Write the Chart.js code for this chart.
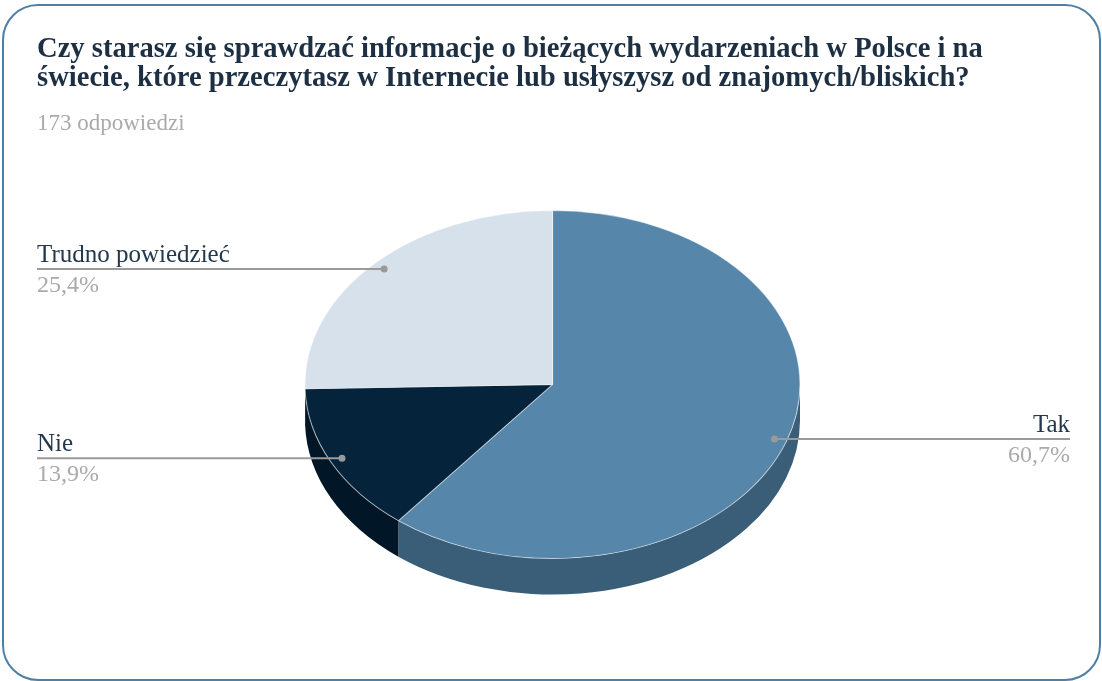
<!DOCTYPE html>
<html>
<head>
<meta charset="utf-8">
<title>Czy starasz się sprawdzać informacje</title>
<script src="https://cdn.jsdelivr.net/npm/chart.js"></script>
<style>
  html, body { margin: 0; padding: 0; background: #fff; }
  #frame {
    position: absolute; left: 2px; top: 4px;
    width: 1095px; height: 673px;
    border: 2px solid #4f7fa3; border-radius: 36px;
  }
  #wrap { position: absolute; left: 0; top: 0; width: 1102px; height: 681px; }
</style>
</head>
<body>
<div id="frame"></div>
<div id="wrap"><canvas id="pieChart"></canvas></div>

<script>
const titleLines = [
    'Czy starasz się sprawdzać informacje o bieżących wydarzeniach w Polsce i na',
    'świecie, które przeczytasz w Internecie lub usłyszysz od znajomych/bliskich?'
];
const answerCount = '173 odpowiedzi';
const categories = ['Tak', 'Nie', 'Trudno powiedzieć'];
const percents = [60.7, 13.9, 25.4];
const topColors = ['#5687ab', '#05233b', '#d6e1eb'];
const sideColors = ['#3b5e78', '#011626', '#a9b6c2'];

// where the flattened pie sits on the page
const pieCx = 552.5, pieCy = 384.5, pieRx = 247.5, pieRy = 174, pieDepth = 36;

function ellipseXY(a, r) {
    return [pieCx + Math.cos(a) * pieRx * r, pieCy + Math.sin(a) * pieRy * r];
}

const pie3d = {
    id: 'pie3d',
    beforeDatasetsDraw(chart) {
        const ctx = chart.ctx;
        const arcs = chart.getDatasetMeta(0).data;
        // side walls, only the front half (0..PI) is visible
        arcs.forEach((arc, i) => {
            let s = arc.startAngle, e = arc.endAngle;
            [0, 2 * Math.PI].forEach(shift => {
                const a0 = Math.max(s - shift, 0), a1 = Math.min(e - shift, Math.PI);
                if (a1 <= a0) return;
                ctx.save();
                ctx.beginPath();
                ctx.ellipse(pieCx, pieCy, pieRx, pieRy, 0, a0, a1);
                ctx.ellipse(pieCx, pieCy + pieDepth, pieRx, pieRy, 0, a1, a0, true);
                ctx.closePath();
                ctx.fillStyle = sideColors[i];
                ctx.fill();
                ctx.restore();
            });
        });
        // flatten the circle into an ellipse
        const a = arcs[0];
        const sx = pieRx / a.outerRadius, sy = pieRy / a.outerRadius;
        ctx.save();
        ctx.translate(pieCx, pieCy);
        ctx.scale(sx, sy);
        ctx.translate(-a.x, -a.y);
    },
    afterDatasetsDraw(chart) {
        chart.ctx.restore();
    },
    afterDraw(chart) {
        const ctx = chart.ctx;
        const arcs = chart.getDatasetMeta(0).data;
        arcs.forEach((arc, i) => {
            const mid = (arc.startAngle + arc.endAngle) / 2;
            const [px, py] = ellipseXY(mid, 0.95);
            const right = Math.cos(mid) > 0;
            const endX = right ? 1070 : 37;
            ctx.save();
            ctx.strokeStyle = '#9a9a9a';
            ctx.lineWidth = 2;
            ctx.beginPath();
            ctx.moveTo(px, py);
            ctx.lineTo(endX, py);
            ctx.stroke();
            ctx.fillStyle = '#9a9a9a';
            ctx.beginPath();
            ctx.arc(px, py, 3.5, 0, Math.PI * 2);
            ctx.fill();
            ctx.textAlign = right ? 'right' : 'left';
            ctx.textBaseline = 'alphabetic';
            ctx.font = '25px "Liberation Serif", serif';
            ctx.fillStyle = '#23384d';
            ctx.fillText(categories[i], endX, py - 7);
            ctx.font = '24px "Liberation Serif", serif';
            ctx.fillStyle = '#aaaaaa';
            ctx.fillText(percents[i].toFixed(1).replace('.', ',') + '%', endX, py + 23);
            ctx.restore();
        });
    }
};

new Chart(document.getElementById('pieChart'), {
    type: 'pie',
    data: {
        labels: categories,
        datasets: [{
            data: percents,
            backgroundColor: topColors,
            borderColor: 'rgba(255,255,255,0.5)',
            borderWidth: 1
        }]
    },
    options: {
        responsive: true,
        maintainAspectRatio: false,
        animation: false,
        layout: { padding: { left: 37, top: 35, right: 40, bottom: 90 } },
        plugins: {
            legend: { display: false },
            tooltip: { enabled: false },
            title: {
                display: true,
                text: titleLines,
                align: 'start',
                color: '#1d2f42',
                font: { family: '"Liberation Serif", serif', size: 28.6, weight: 'bold', lineHeight: 1.02 },
                padding: { top: 0, bottom: 6 }
            },
            subtitle: {
                display: true,
                text: answerCount,
                align: 'start',
                color: '#aaaaaa',
                font: { family: '"Liberation Serif", serif', size: 23 },
                padding: { top: 11, bottom: 20 }
            }
        }
    },
    plugins: [pie3d]
});
</script>
</body>
</html>
